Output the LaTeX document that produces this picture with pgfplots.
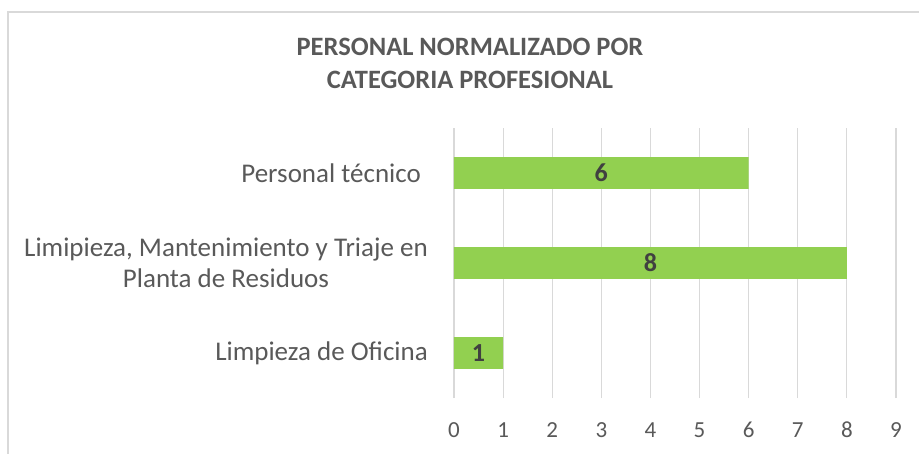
\documentclass[border=0pt]{standalone}
\usepackage{pgfplots}
\pgfplotsset{compat=1.18}
\usepackage{fontspec}
\setmainfont{Carlito}
\definecolor{bargreen}{HTML}{92D050}
\definecolor{txtgray}{HTML}{595959}
\definecolor{lblgray}{HTML}{404040}
\definecolor{gridgray}{HTML}{D9D9D9}

\begin{document}
\begin{tikzpicture}
\useasboundingbox (0,0) rectangle (919pt,453pt);
\clip (0,0) rectangle (919pt,453pt);
\draw[gridgray, line width=1.2pt] (8pt,-20pt) -- (8pt,441pt) -- (940pt,441pt);
\node[anchor=base, font=\fontsize{26.5}{31}\selectfont\bfseries, text=txtgray] at (470pt,397pt) {PERSONAL NORMALIZADO POR};
\node[anchor=base, font=\fontsize{26.5}{31}\selectfont\bfseries, text=txtgray] at (470pt,364pt) {CATEGORIA PROFESIONAL};
\begin{axis}[
  at={(454pt,55pt)}, anchor=south west,
  scale only axis, width=442pt, height=270pt,
  xmin=0, xmax=9, ymin=-0.5, ymax=2.5,
  xtick={0,...,9}, ytick={0,1,2},
  yticklabels={Limpieza de Oficina,{Limipieza, Mantenimiento y Triaje en\\Planta de Residuos},Personal técnico\hspace{7pt}},
  major tick length=0pt,
  axis line style={draw=none},
  xmajorgrids, grid style={gridgray, line width=1.2pt},
  /pgf/number format/assume math mode=true,
  xticklabel style={anchor=base, yshift=-39pt, text=txtgray, font=\fontsize{23}{27}\selectfont},
  yticklabel style={anchor=east, align=center, inner sep=0pt, xshift=-26pt, text=txtgray, font=\fontsize{27}{31}\selectfont},
  xbar, bar width=31.7pt,
  nodes near coords,
  visualization depends on={rawx \as \rawx},
  every node near coord/.append style={anchor=center, shift={(axis direction cs:-\rawx/2,0)}, text=lblgray, font=\fontsize{26}{30}\selectfont\bfseries},
]
\addplot[fill=bargreen, draw=none] coordinates {(1,0) (8,1) (6,2)};
\end{axis}
\end{tikzpicture}
\end{document}
